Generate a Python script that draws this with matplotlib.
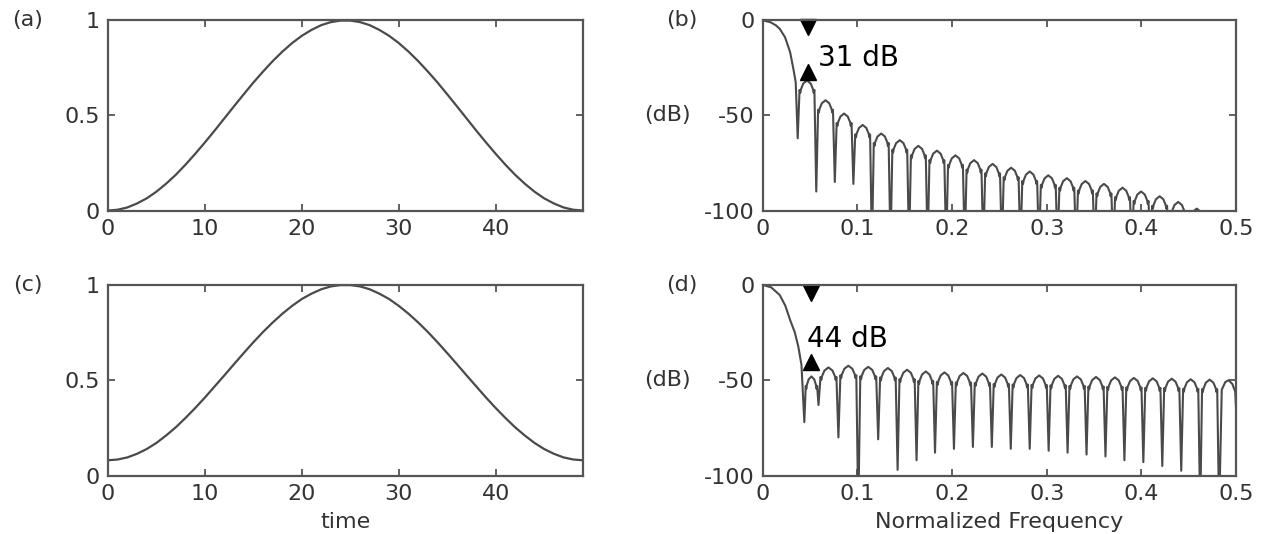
import matplotlib
matplotlib.use('Agg')
import matplotlib.pyplot as plt

plt.rcParams['font.family'] = ['DejaVu Sans']

time = list(range(50))
hann_half = [0.000, 0.004, 0.016, 0.037, 0.064, 0.099, 0.141, 0.188, 0.241, 0.298,
             0.358, 0.420, 0.484, 0.548, 0.611, 0.673, 0.731, 0.786, 0.836, 0.881,
             0.919, 0.950, 0.975, 0.991, 0.999]
hamm_half = [0.080, 0.084, 0.095, 0.114, 0.139, 0.171, 0.210, 0.253, 0.302, 0.354,
             0.409, 0.467, 0.525, 0.584, 0.642, 0.699, 0.753, 0.803, 0.849, 0.890,
             0.926, 0.954, 0.977, 0.992, 0.999]
hann = hann_half + hann_half[::-1]
hamm = hamm_half + hamm_half[::-1]

# (b) spectrum of the first window: main lobe, nulls, sidelobe peaks
b_main_f = [0, 0.008, 0.014, 0.018, 0.0236, 0.029, 0.0324, 0.0349]
b_main_db = [0, -0.9, -2.6, -4.4, -8.8, -16.7, -25.4, -32.5]
b_null_f = [0.037, 0.0566, 0.0762, 0.0958, 0.1154, 0.135, 0.1546, 0.1742, 0.1938, 0.2134,
            0.233, 0.2526, 0.2722, 0.2918, 0.3114, 0.331, 0.3506, 0.3702, 0.3898, 0.4094,
            0.429, 0.4486, 0.4682, 0.4878]
b_null_db = [-62, -90, -85, -86] + [-120] * 20
b_lobe_db = [-31.6, -42, -49, -55, -59.5, -63, -66, -68.5, -71, -73.5, -75.5, -77.5,
             -79.5, -81.5, -83, -84.5, -86, -88, -90, -92.5, -95.5, -99, -103]
b_tail_f = [0.5]
b_tail_db = [-112]

# (d) spectrum of the second window
d_main_f = [0, 0.009, 0.018, 0.024, 0.029, 0.034, 0.0377, 0.041]
d_main_db = [0, -1.3, -5.3, -11, -18.4, -25, -32.5, -42]
d_null_f = [0.044, 0.059, 0.080, 0.101, 0.122, 0.1425, 0.1625, 0.182, 0.202, 0.222,
            0.242, 0.262, 0.282, 0.302, 0.322, 0.342, 0.362, 0.382, 0.402, 0.422,
            0.442, 0.462, 0.482]
d_null_db = [-72, -63, -80, -120, -81, -97, -92, -88, -86, -85, -85, -86, -86, -87,
             -88, -89, -90, -92, -93, -95, -97.5, -120, -120]
d_lobe_db = [-48, -43.3, -42.4, -43, -43.6, -44.5, -45.4, -45.9, -46.2, -46.5, -47,
             -47.3, -47.5, -47.7, -48, -48.3, -48.5, -48.8, -49, -49.2, -49.5, -49.7]
d_tail_f = [0.4848, 0.4885, 0.492, 0.496, 0.499, 0.5]
d_tail_db = [-55, -51, -50, -52, -56, -66]

# typical sidelobe profile (position inside lobe, dB below peak)
lobe_rel = [0.1, 0.14, 0.18, 0.3, 0.5, 0.7, 0.82, 0.86, 0.9]
lobe_off = [-5, -6.5, -4.5, -1.6, 0, -1.6, -4.5, -6.5, -5]

line_col = '#4a4a4a'
axis_col = '#555555'
text_col = '#333333'
fs = 16


def build_spectrum(main_f, main_db, null_f, null_db, lobe_db, tail_f, tail_db):
    f = list(main_f)
    d = list(main_db)
    for i, peak in enumerate(lobe_db):
        a, b = null_f[i], null_f[i + 1]
        f.append(a)
        d.append(null_db[i])
        for r, off in zip(lobe_rel, lobe_off):
            f.append(a + r * (b - a))
            d.append(peak + off)
    f.append(null_f[-1])
    d.append(null_db[-1])
    return f + list(tail_f), d + list(tail_db)


def style(ax):
    for s in ax.spines.values():
        s.set_color(axis_col)
        s.set_linewidth(1.6)
    ax.tick_params(direction='in', top=True, right=True, length=5, width=1.3,
                   colors=axis_col, labelcolor=text_col, labelsize=fs, pad=6)


fig = plt.figure(figsize=(12.61, 5.34), dpi=100)
ax_a = fig.add_axes([0.0856, 0.6058, 0.3767, 0.356])
ax_b = fig.add_axes([0.6048, 0.6058, 0.3755, 0.356])
ax_c = fig.add_axes([0.0856, 0.1095, 0.3767, 0.357])
ax_d = fig.add_axes([0.6048, 0.1095, 0.3755, 0.357])

# windows
for ax, vals, letter in [(ax_a, hann, '(a)'), (ax_c, hamm, '(c)')]:
    ax.plot(time, vals, color=line_col, lw=1.6)
    ax.set_xlim(0, 49)
    ax.set_ylim(0, 1)
    ax.set_xticks([0, 10, 20, 30, 40])
    ax.set_yticks([0, 0.5, 1])
    ax.set_yticklabels(['0', '0.5', '1'])
    style(ax)
    ax.text(-0.137, 1.0, letter, transform=ax.transAxes, ha='right', va='center',
            fontsize=fs, color=text_col)
ax_c.set_xlabel('time', fontsize=fs, color=text_col, labelpad=6)

# spectra
bf, bd = build_spectrum(b_main_f, b_main_db, b_null_f, b_null_db, b_lobe_db, b_tail_f, b_tail_db)
df, dd = build_spectrum(d_main_f, d_main_db, d_null_f, d_null_db, d_lobe_db, d_tail_f, d_tail_db)

for ax, f, d, letter in [(ax_b, bf, bd, '(b)'), (ax_d, df, dd, '(d)')]:
    ax.plot(f, d, color=line_col, lw=1.5)
    ax.set_xlim(0, 0.5)
    ax.set_ylim(-100, 0)
    ax.set_xticks([0, 0.1, 0.2, 0.3, 0.4, 0.5])
    ax.set_xticklabels(['0', '0.1', '0.2', '0.3', '0.4', '0.5'])
    ax.set_yticks([-100, -50, 0])
    ax.set_yticklabels(['-100', '-50', '0'])
    style(ax)
    ax.text(-0.137, 1.0, letter, transform=ax.transAxes, ha='right', va='center',
            fontsize=fs, color=text_col)
    ax.text(-0.152, -50, '(dB)', transform=ax.get_yaxis_transform(), ha='right',
            va='center', fontsize=fs, color=text_col)
ax_d.set_xlabel('Normalized Frequency', fontsize=fs, color=text_col, labelpad=6)

# sidelobe level markers
ax_b.plot(0.048, -3.5, 'v', color='k', ms=11, clip_on=False)
ax_b.plot(0.048, -27, '^', color='k', ms=11, clip_on=False)
ax_b.text(0.058, -19.7, '31 dB', fontsize=20, color='k', ha='left', va='center')

ax_d.plot(0.051, -4, 'v', color='k', ms=11, clip_on=False)
ax_d.plot(0.051, -40.5, '^', color='k', ms=11, clip_on=False)
ax_d.text(0.0465, -28.4, '44 dB', fontsize=20, color='k', ha='left', va='center')

fig.savefig('out.png', dpi=100)
